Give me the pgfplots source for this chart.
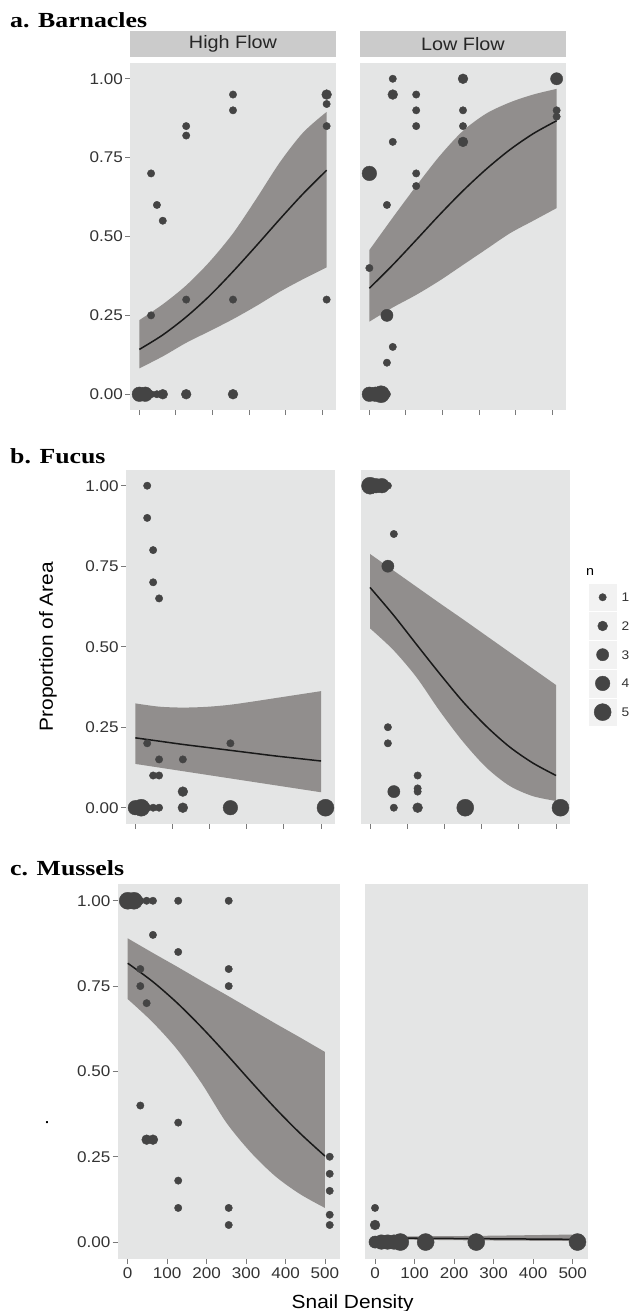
\documentclass[border=0pt]{standalone}
\usepackage{pgfplots}
\pgfplotsset{compat=1.18}
\usepgfplotslibrary{fillbetween}
\usepackage{fontspec}
\newfontfamily\sansf{Liberation Sans}[FakeStretch=1.1]
\newfontfamily\serff{Liberation Serif}[FakeStretch=1.2]
\definecolor{panelbg}{HTML}{E4E5E5}
\definecolor{stripbg}{HTML}{CBCBCB}
\definecolor{bandcol}{HTML}{918E8D}
\definecolor{ptcol}{HTML}{444444}
\definecolor{tickcol}{HTML}{7A7A7A}
\definecolor{labcol}{HTML}{333333}
\definecolor{keybg}{HTML}{F2F2F2}

\pgfplotsset{
  panel/.style={
    scale only axis, anchor=south west,
    xmin=-25.6, xmax=537.6, ymin=-0.05, ymax=1.05,
    axis background/.style={fill=panelbg},
    axis line style={draw=none},
    tick align=outside, tick pos=left,
    major tick length=5pt,
    tick style={tickcol, line width=0.9pt},
    xtick={0,100,200,300,400,500}, xticklabels={},
    ytick={0,0.25,0.5,0.75,1}, yticklabels={0.00,0.25,0.50,0.75,1.00},
    ticklabel style={font=\sansf\fontsize{15.5}{17}\selectfont, text=labcol},
    yticklabel style={inner sep=2pt},
    xticklabel style={inner sep=3pt},
  },
  noy/.style={ytick=\empty},
  strip/.style={title={#1}, title style={at={(0.5,1)}, anchor=south,
    fill=stripbg, minimum width=206pt, minimum height=26pt, inner sep=0pt,
    text=black!85, font=\sansf\fontsize{18}{20}\selectfont}},
  up/.style={name path=up, draw=none, smooth},
  lo/.style={name path=lo, draw=none, smooth},
  band/.style={fill=bandcol, draw=none},
  fit/.style={black!90, line width=1.5pt, smooth},
  pts/.style={scatter, only marks, mark=*,
    visualization depends on={\thisrow{n}\as\nn},
    scatter/use mapped color={draw=ptcol, fill=ptcol},
    scatter/@pre marker code/.append style={/tikz/mark size=2.5+1.2*\nn}},
}

\begin{document}
\begin{tikzpicture}

% ---------- a. Barnacles ----------
\node[anchor=base west, inner sep=0, font=\serff\bfseries\fontsize{21.5}{24}\selectfont] at (10pt,-27.3pt) {a. Barnacles};

\begin{axis}[panel, strip={High Flow}, at={(130pt,-410pt)}, width=206pt, height=347pt]
\addplot[up] coordinates {(0,0.235)(64,0.285)(128,0.345)(192,0.42)(256,0.51)(320,0.62)(384,0.735)(448,0.83)(512,0.895)};
\addplot[lo] coordinates {(0,0.082)(64,0.12)(128,0.163)(192,0.20)(256,0.238)(320,0.28)(384,0.325)(448,0.365)(512,0.402)};
\addplot[band] fill between[of=up and lo];
\addplot[fit] coordinates {(0,0.142)(64,0.188)(128,0.245)(192,0.312)(256,0.389)(320,0.471)(384,0.555)(448,0.636)(512,0.710)};
\addplot[pts] table {
x y n
0 0 4
16 0 4
32 0 1
48 0 1
64 0 2
128 0 2
256 0 2
32 0.25 1
128 0.30 1
256 0.30 1
512 0.30 1
64 0.55 1
48 0.60 1
32 0.70 1
128 0.82 1
128 0.85 1
512 0.85 1
256 0.90 1
512 0.92 1
256 0.95 1
512 0.95 2
};
\end{axis}

\begin{axis}[panel, noy, strip={Low Flow}, at={(360pt,-410pt)}, width=206pt, height=347pt]
\addplot[up] coordinates {(0,0.457)(64,0.56)(128,0.66)(192,0.755)(256,0.835)(320,0.89)(384,0.925)(448,0.95)(512,0.968)};
\addplot[lo] coordinates {(0,0.23)(64,0.275)(128,0.315)(192,0.36)(256,0.41)(320,0.46)(384,0.51)(448,0.55)(512,0.59)};
\addplot[band] fill between[of=up and lo];
\addplot[fit] coordinates {(0,0.336)(64,0.410)(128,0.489)(192,0.569)(256,0.645)(320,0.714)(384,0.775)(448,0.826)(512,0.867)};
\addplot[pts] table {
x y n
0 0 4
16 0 4
32 0 5
48 0 1
48 0.10 1
64 0.15 1
48 0.25 3
0 0.40 1
48 0.60 1
128 0.66 1
0 0.70 4
128 0.70 1
64 0.80 1
256 0.80 2
128 0.85 1
256 0.85 1
512 0.88 1
128 0.90 1
256 0.90 1
512 0.90 1
64 0.95 2
128 0.95 1
64 1.00 1
256 1.00 2
512 1.00 3
};
\end{axis}

% ---------- b. Fucus ----------
\node[anchor=base west, inner sep=0, font=\serff\bfseries\fontsize{21.5}{24}\selectfont] at (10pt,-463pt) {b. Fucus};
\node[rotate=90, font=\sansf\fontsize{19}{22}\selectfont] at (48pt,-646.7pt) {Proportion of Area};

\begin{axis}[panel, at={(125.8pt,-823.8pt)}, width=209.2pt, height=354.2pt]
\addplot[up] coordinates {(0,0.324)(62.5,0.314)(125,0.311)(187.5,0.313)(250,0.319)(312.5,0.329)(375,0.340)(437.5,0.351)(500,0.362)};
\addplot[lo] coordinates {(0,0.136)(62.5,0.125)(125,0.114)(187.5,0.103)(250,0.092)(312.5,0.081)(375,0.070)(437.5,0.059)(500,0.048)};
\addplot[band] fill between[of=up and lo];
\addplot[fit] coordinates {(0,0.217)(62.5,0.207)(125,0.197)(187.5,0.188)(250,0.179)(312.5,0.170)(375,0.161)(437.5,0.153)(500,0.145)};
\addplot[pts] table {
x y n
0 0 4
16 0 5
32 0 1
48 0 1
64 0 1
128 0 2
256 0 4
512 0 5
128 0.05 2
48 0.10 1
64 0.10 1
64 0.15 1
128 0.15 1
32 0.20 1
256 0.20 1
64 0.65 1
48 0.70 1
48 0.80 1
32 0.90 1
32 1.00 1
};
\end{axis}

\begin{axis}[panel, noy, at={(360.5pt,-823.8pt)}, width=209.5pt, height=354.2pt]
\addplot[up] coordinates {(0,0.788)(62.5,0.737)(125,0.686)(187.5,0.635)(250,0.585)(312.5,0.534)(375,0.483)(437.5,0.432)(500,0.381)};
\addplot[lo] coordinates {(0,0.557)(62.5,0.49)(125,0.405)(187.5,0.30)(250,0.205)(312.5,0.125)(375,0.068)(437.5,0.036)(500,0.021)};
\addplot[band] fill between[of=up and lo];
\addplot[fit] coordinates {(0,0.684)(62.5,0.599)(125,0.507)(187.5,0.416)(250,0.329)(312.5,0.253)(375,0.189)(437.5,0.139)(500,0.100)};
\addplot[pts] table {
x y n
0 1 5
16 1 4
32 1 4
48 1 1
64 0.85 1
48 0.75 3
48 0.25 1
48 0.20 1
128 0.10 1
128 0.06 1
128 0.05 1
64 0.05 3
64 0 1
128 0 2
256 0 5
512 0 5
};
\end{axis}

% legend
\node[anchor=base west, inner sep=0, font=\sansf\fontsize{13}{14}\selectfont] at (586pt,-575.7pt) {n};
\begin{axis}[scale only axis, anchor=north west, at={(589.3pt,-582.9pt)}, width=26.7pt, height=143.6pt,
  xmin=-0.5, xmax=0.5, ymin=0.5, ymax=5.5, y dir=reverse, clip=false,
  axis line style={draw=none}, xtick=\empty, ytick={1,2,3,4,5}, yticklabels={1,2,3,4,5},
  yticklabel pos=right, major tick length=0pt, tick style={draw=none},
  yticklabel style={inner sep=0pt, xshift=5.5pt, font=\sansf\fontsize{12.5}{14}\selectfont, text=labcol}]
\addplot[only marks, mark=square*, mark size=13.4pt, keybg] coordinates {(0,1)(0,2)(0,3)(0,4)(0,5)};
\addplot[pts] table {
x y n
0 1 1
0 2 2
0 3 3
0 4 4
0 5 5
};
\end{axis}

% ---------- c. Mussels ----------
\node[anchor=base west, inner sep=0, font=\serff\bfseries\fontsize{21.5}{24}\selectfont] at (10pt,-875.5pt) {c. Mussels};
\node[rotate=90, font=\sansf\fontsize{19}{22}\selectfont] at (47pt,-1123pt) {.};
\node[anchor=base, font=\sansf\fontsize{19}{22}\selectfont] at (352.7pt,-1308.3pt) {Snail Density};

\begin{axis}[panel, at={(117.6pt,-1259.1pt)}, width=222.2pt, height=375.4pt,
  xticklabels={0,100,200,300,400,500}]
\addplot[up] coordinates {(0,0.890)(62.5,0.848)(125,0.807)(187.5,0.765)(250,0.724)(312.5,0.682)(375,0.640)(437.5,0.599)(500,0.557)};
\addplot[lo] coordinates {(0,0.712)(62.5,0.645)(125,0.565)(187.5,0.465)(250,0.350)(312.5,0.262)(375,0.192)(437.5,0.140)(500,0.100)};
\addplot[band] fill between[of=up and lo];
\addplot[fit] coordinates {(0,0.817)(62.5,0.764)(125,0.701)(187.5,0.629)(250,0.551)(312.5,0.470)(375,0.391)(437.5,0.318)(500,0.252)};
\addplot[pts] table {
x y n
0 1 5
16 1 5
32 1 1
48 1 1
64 1 1
128 1 1
256 1 1
64 0.90 1
128 0.85 1
32 0.80 1
32 0.75 1
48 0.70 1
256 0.80 1
256 0.75 1
32 0.40 1
128 0.35 1
48 0.30 2
64 0.30 2
128 0.18 1
128 0.10 1
256 0.10 1
256 0.05 1
512 0.25 1
512 0.20 1
512 0.15 1
512 0.08 1
512 0.05 1
};
\end{axis}

\begin{axis}[panel, noy, at={(364.9pt,-1259.1pt)}, width=222.7pt, height=375.4pt,
  xticklabels={0,100,200,300,400,500}]
\addplot[up] coordinates {(0,0.016)(250,0.018)(500,0.022)};
\addplot[lo] coordinates {(0,0.008)(250,0.005)(500,0.003)};
\addplot[band] fill between[of=up and lo];
\addplot[fit] coordinates {(0,0.012)(250,0.010)(500,0.008)};
\addplot[pts] table {
x y n
0 0.10 1
0 0.05 2
0 0 3
16 0 4
32 0 4
48 0 4
64 0 5
128 0 5
256 0 5
512 0 5
};
\end{axis}

\pgfresetboundingbox
\path (0,0) rectangle (629pt,-1311pt);
\end{tikzpicture}
\end{document}
